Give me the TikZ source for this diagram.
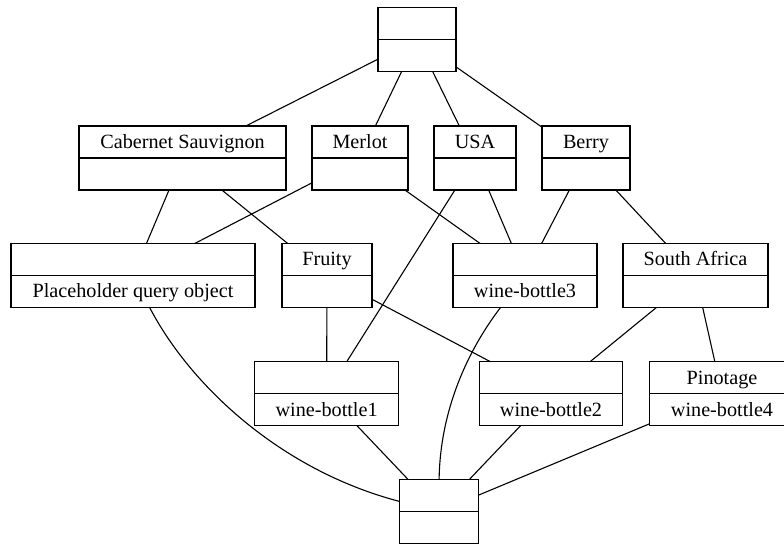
\documentclass[tikz,border=0pt]{standalone}
\usepackage{fontspec}
\setmainfont{Liberation Serif}
% two-compartment concept box: name, centre x, centre y, width, upper text, lower text
\newcommand{\latticebox}[6]{%
  \node[conceptbox, minimum width=#4pt] (#1) at (#2,#3) {};
  \draw[boxline] (#1.west) -- (#1.east);
  \node[boxtext] (#1-up) at (#2,#3-9.7) {#5};
  \node[boxtext] (#1-low) at (#2,#3+22.3) {#6};
}
\begin{document}
\begin{tikzpicture}[x=1pt,y=-1pt,
  conceptbox/.style={draw, line width=1.2pt, minimum height=64pt, inner sep=0pt, outer sep=0pt},
  boxline/.style={line width=1.2pt},
  boxtext/.style={anchor=base, font=\fontsize{20.2}{24}\selectfont, inner sep=0pt},
  link/.style={line width=1.1pt}]
\useasboundingbox (0,0) rectangle (784,545);

% concepts, top to bottom
\latticebox{top}{417}{39.5}{78}{}{}
\latticebox{cab}{182.5}{158}{207}{Cabernet Sauvignon}{}
\latticebox{merlot}{360}{158}{96}{Merlot}{}
\latticebox{usa}{475}{158}{82}{USA}{}
\latticebox{berry}{586}{158}{88}{Berry}{}
\latticebox{query}{133}{275.5}{244}{}{Placeholder query object}
\latticebox{fruity}{327}{275.5}{90}{Fruity}{}
\latticebox{wb3}{525}{275.5}{144}{}{wine-bottle3}
\latticebox{safrica}{695.5}{275.5}{145}{South Africa}{}
\latticebox{wb1}{326.6}{393.7}{144}{}{wine-bottle1}
\latticebox{wb2}{551}{393.7}{143}{}{wine-bottle2}
\latticebox{pino}{722}{393.7}{145}{Pinotage}{wine-bottle4}
\latticebox{bottom}{438.7}{511.7}{79}{}{}

% covering relations
\draw[link] (top) -- (cab);
\draw[link] (top) -- (merlot);
\draw[link] (top) -- (usa);
\draw[link] (top) -- (berry);
\draw[link] (cab) -- (query);
\draw[link] (cab) -- (fruity);
\draw[link] (merlot) -- (query);
\draw[link] (merlot) -- (wb3);
\draw[link] (usa) -- (wb3);
\draw[link] (usa) -- (wb1);
\draw[link] (berry) -- (wb3);
\draw[link] (berry) -- (safrica);
\draw[link] (fruity) -- (wb1);
\draw[link] (fruity) -- (wb2);
\draw[link] (safrica) -- (wb2);
\draw[link] (safrica) -- (pino);
\draw[link] (query) .. controls (190,385) and (280,470) .. (bottom);
\draw[link] (wb3) .. controls (468,350) and (440,410) .. (bottom);
\draw[link] (wb1) -- (bottom);
\draw[link] (wb2) -- (bottom);
\draw[link] (pino) -- (bottom);
\end{tikzpicture}
\end{document}
